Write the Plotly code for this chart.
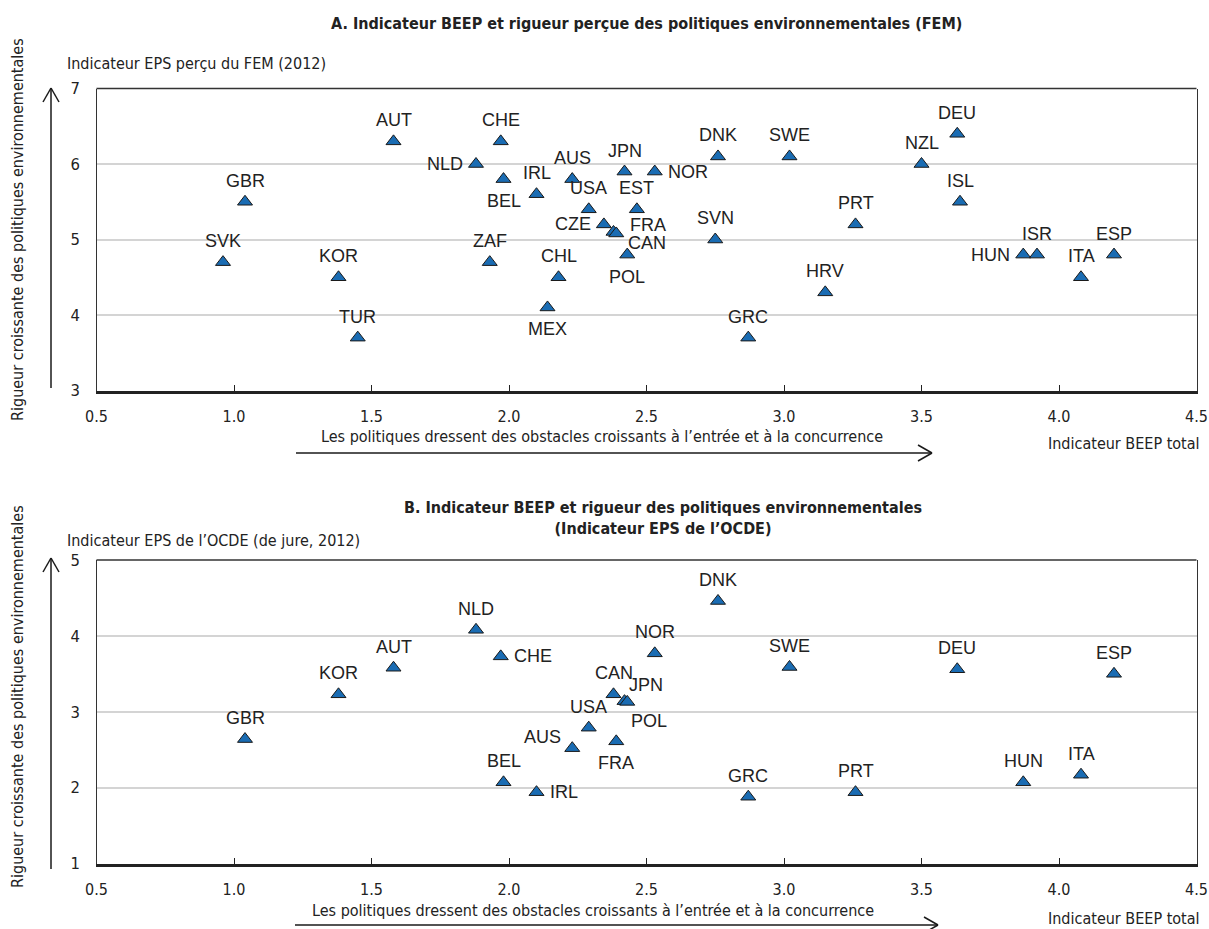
import plotly.graph_objects as go

# ---------------- data ----------------
countries_a = ["SVK", "GBR", "KOR", "TUR", "AUT", "NLD", "ZAF", "CHE", "BEL", "IRL",
               "MEX", "CHL", "AUS", "USA", "CZE", "CAN", "FRA", "JPN", "POL", "EST",
               "NOR", "SVN", "DNK", "GRC", "SWE", "HRV", "PRT", "NZL", "DEU", "ISL",
               "HUN", "ISR", "ITA", "ESP"]
beep_a = [0.96, 1.04, 1.38, 1.45, 1.58, 1.88, 1.93, 1.97, 1.98, 2.10,
          2.14, 2.18, 2.23, 2.29, 2.345, 2.38, 2.39, 2.42, 2.43, 2.465,
          2.53, 2.75, 2.76, 2.87, 3.02, 3.15, 3.26, 3.50, 3.63, 3.64,
          3.87, 3.92, 4.08, 4.20]
eps_fem = [4.7, 5.5, 4.5, 3.7, 6.3, 6.0, 4.7, 6.3, 5.8, 5.6,
           4.1, 4.5, 5.8, 5.4, 5.2, 5.1, 5.08, 5.9, 4.8, 5.4,
           5.9, 5.0, 6.1, 3.7, 6.1, 4.3, 5.2, 6.0, 6.4, 5.5,
           4.8, 4.8, 4.5, 4.8]

countries_b = ["GBR", "KOR", "AUT", "NLD", "CHE", "BEL", "IRL", "AUS", "USA", "CAN",
               "FRA", "JPN", "POL", "NOR", "DNK", "GRC", "SWE", "PRT", "DEU", "HUN",
               "ITA", "ESP"]
beep_b = [1.04, 1.38, 1.58, 1.88, 1.97, 1.98, 2.10, 2.23, 2.29, 2.38,
          2.39, 2.42, 2.43, 2.53, 2.76, 2.87, 3.02, 3.26, 3.63, 3.87,
          4.08, 4.20]
eps_oecd = [2.64, 3.23, 3.58, 4.08, 3.73, 2.07, 1.94, 2.52, 2.79, 3.23,
            2.61, 3.14, 3.13, 3.77, 4.46, 1.88, 3.59, 1.94, 3.56, 2.07,
            2.17, 3.50]

x_ticks = [0.5, 1.0, 1.5, 2.0, 2.5, 3.0, 3.5, 4.0, 4.5]
x_tick_text = ["0.5", "1.0", "1.5", "2.0", "2.5", "3.0", "3.5", "4.0", "4.5"]
y_ticks_a = [3, 4, 5, 6, 7]
y_ticks_b = [1, 2, 3, 4, 5]

title_a = "A. Indicateur BEEP et rigueur perçue des politiques environnementales (FEM)"
title_b = "B. Indicateur BEEP et rigueur des politiques environnementales<br>(Indicateur EPS de l’OCDE)"
ylab_a = "Indicateur EPS perçu du FEM (2012)"
ylab_b = "Indicateur EPS de l’OCDE (de jure, 2012)"
xlab_arrow = "Les politiques dressent des obstacles croissants à l’entrée et à la concurrence"
xlab_right = "Indicateur BEEP total"
ylab_side = "Rigueur croissante des politiques environnementales"

# label placement (style only)
pos_a = {"NLD": "l", "HUN": "l", "CZE": "l", "NOR": "r", "FRA": "fr", "CAN": "cr",
         "BEL": "b", "MEX": "b", "POL": "b"}
pos_b = {"CHE": "r", "IRL": "r", "AUS": "tl", "JPN": "tr", "POL": "br", "FRA": "b"}

# ---------------- style ----------------
W, H = 1209, 929
NARROW = "DejaVu Sans Condensed, Liberation Sans, sans-serif"
REG = "Liberation Sans, Arial, sans-serif"
BLUE = "#1a6cb3"
TXT = "#222222"
XDOM = [96.5 / W, 1196.5 / W]
YDOM_A = [1 - 390.5 / H, 1 - 88.5 / H]
YDOM_B = [1 - 863.5 / H, 1 - 560 / H]

fig = go.Figure()

for cs, xs, ys, xa, ya in [(countries_a, beep_a, eps_fem, "x", "y"),
                           (countries_b, beep_b, eps_oecd, "x2", "y2")]:
    fig.add_trace(go.Scatter(
        x=xs, y=ys, mode="markers", xaxis=xa, yaxis=ya, hoverinfo="text", text=cs,
        marker=dict(symbol="triangle-up", size=13, color=BLUE,
                    line=dict(color="#1a1a1a", width=1)),
        showlegend=False, cliponaxis=False))

annotations = []
shift = {"t": (0, 21, "center"), "b": (0, -22, "center"), "l": (-11, 0, "right"),
         "r": (11, 0, "left"), "fr": (12, 8, "left"), "cr": (12, -11, "left"),
         "tl": (-9, 11, "right"), "tr": (2, 16, "left"), "br": (2, -19, "left")}
for cs, xs, ys, xr, yr, pos in [(countries_a, beep_a, eps_fem, "x", "y", pos_a),
                                (countries_b, beep_b, eps_oecd, "x2", "y2", pos_b)]:
    for c, xv, yv in zip(cs, xs, ys):
        dx, dy, anc = shift[pos.get(c, "t")]
        annotations.append(dict(x=xv, y=yv, xref=xr, yref=yr, text=c, showarrow=False,
                                xshift=dx, yshift=dy, xanchor=anc, yanchor="middle",
                                font=dict(family=REG, size=18, color=TXT)))

def ptxt(x, y, text, anchor="center", size=16, angle=0):
    return dict(x=x / W, y=1 - y / H, xref="paper", yref="paper", text=text,
                showarrow=False, xanchor=anchor, yanchor="middle", textangle=angle,
                font=dict(family=NARROW, size=size, color=TXT))

annotations += [
    ptxt(646, 23, "<b>" + title_a + "</b>", size=16),
    ptxt(663, 518, "<b>" + title_b + "</b>", size=16),
    ptxt(65, 64, ylab_a, "left"),
    ptxt(65, 540, ylab_b, "left"),
    ptxt(602, 437, xlab_arrow),
    ptxt(593, 910, xlab_arrow),
    ptxt(1202, 443, xlab_right, "right"),
    ptxt(1202, 918, xlab_right, "right"),
    ptxt(17, 230, ylab_side, angle=-90),
    ptxt(17, 697, ylab_side, angle=-90),
]

# arrows (decoration, in pixel-based paper coords)
shapes = []
def seg(x0, y0, x1, y1, w=1.5):
    shapes.append(dict(type="line", xref="paper", yref="paper",
                       x0=x0 / W, y0=1 - y0 / H, x1=x1 / W, y1=1 - y1 / H,
                       line=dict(color="#1a1a1a", width=w)))

for (xa0, xa1, ya) in [(296, 932, 453), (295, 938, 925)]:
    seg(xa0, ya, xa1, ya)
    seg(xa1, ya, xa1 - 14, ya - 8)
    seg(xa1, ya, xa1 - 14, ya + 8)
for (yb0, yb1) in [(388, 88), (869, 558)]:
    seg(51, yb0, 51, yb1)
    seg(51, yb1, 43, yb1 + 14)
    seg(51, yb1, 59, yb1 + 14)

# top border lines of each panel
for xr, yr in [("x", "y"), ("x2", "y2")]:
    shapes.append(dict(type="line", xref=xr + " domain", yref=yr + " domain",
                       x0=0, x1=1, y0=1, y1=1, line=dict(color="#333333", width=1.3)))

axis_x = dict(range=[0.5, 4.5], tickvals=x_ticks, ticktext=x_tick_text,
              showgrid=False, zeroline=False, showline=True, linecolor="#222222",
              linewidth=2.5, mirror=False, ticks="inside", ticklen=6, tickcolor="#222222",
              tickwidth=1.3, tickfont=dict(family=NARROW, size=16, color=TXT),
              ticklabelstandoff=10, automargin=False, fixedrange=True, domain=XDOM)
axis_y = dict(showgrid=True, gridcolor="#d4d4d4", gridwidth=1.5, zeroline=False,
              showline=True, linecolor="#333333", linewidth=1.3, mirror=True,
              ticks="", tickfont=dict(family=NARROW, size=16.5, color=TXT),
              ticklabelstandoff=12, automargin=False, fixedrange=True)

fig.update_layout(
    width=W, height=H, margin=dict(l=0, r=0, t=0, b=0, autoexpand=False),
    paper_bgcolor="white", plot_bgcolor="white",
    xaxis=dict(axis_x, anchor="y"),
    yaxis=dict(axis_y, range=[3, 7], tickvals=y_ticks_a, domain=YDOM_A, anchor="x"),
    xaxis2=dict(axis_x, anchor="y2"),
    yaxis2=dict(axis_y, range=[1, 5], tickvals=y_ticks_b, domain=YDOM_B, anchor="x2"),
    annotations=annotations, shapes=shapes,
)

fig.write_html("out.html", config={"displayModeBar": False},
               post_script="document.body.style.margin='0';document.body.style.overflow='hidden';")
